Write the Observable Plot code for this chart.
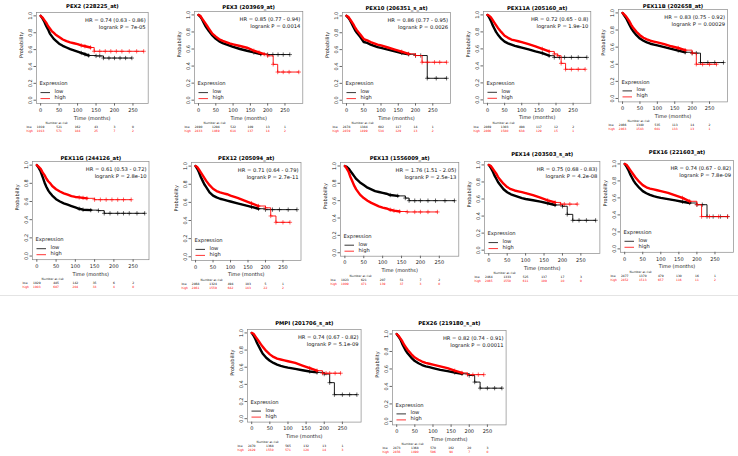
<!DOCTYPE html>
<html><head><meta charset="utf-8">
<script src="https://cdn.jsdelivr.net/npm/d3@7"></script>
<script src="https://cdn.jsdelivr.net/npm/@observablehq/plot@0.6"></script>
<style>
body{margin:0;background:#fff;}
#fig{position:relative;width:738px;height:456px;overflow:hidden;background:#fff;font-family:"DejaVu Sans",sans-serif;}
#fig svg{position:absolute;overflow:visible;}
.sep{position:absolute;left:0;width:738px;height:1px;background:#e4e4e4;}
</style>
</head><body><div id="fig"></div>
<script>
// ---------------- data ----------------
const titles = ["PEX2 (228225_at)","PEX3 (203969_at)","PEX10 (206351_s_at)","PEX11A (205160_at)","PEX11B (202658_at)",
  "PEX11G (244126_at)","PEX12 (205094_at)","PEX13 (1556009_at)","PEX14 (203503_s_at)","PEX16 (221603_at)",
  "PMPI (201706_s_at)","PEX26 (219180_s_at)"];
const hrText = ["HR = 0.74 (0.63 - 0.86)","HR = 0.85 (0.77 - 0.94)","HR = 0.86 (0.77 - 0.95)","HR = 0.72 (0.65 - 0.8)","HR = 0.83 (0.75 - 0.92)",
  "HR = 0.61 (0.53 - 0.72)","HR = 0.71 (0.64 - 0.79)","HR = 1.76 (1.51 - 2.05)","HR = 0.75 (0.68 - 0.83)","HR = 0.74 (0.67 - 0.82)",
  "HR = 0.74 (0.67 - 0.82)","HR = 0.82 (0.74 - 0.91)"];
const pText = ["logrank P = 7e-05","logrank P = 0.0014","logrank P = 0.0026","logrank P = 1.9e-10","logrank P = 0.00029",
  "logrank P = 2.8e-10","logrank P = 2.7e-11","logrank P = 2.5e-13","logrank P = 4.2e-08","logrank P = 7.8e-09",
  "logrank P = 5.1e-09","logrank P = 0.00011"];
const riskTimes = [0,50,100,150,200,250];
const timeTicks = [0,50,100,150,200,250];
const probTicks = [0,0.2,0.4,0.6,0.8,1];
const riskLowCounts = [
  [1019,521,162,43,3,0],[2490,1294,522,109,13,1],[2478,1384,602,117,14,1],[2469,1303,498,117,12,2],[2466,1340,535,113,14,2],
  [1029,485,142,35,6,2],[2468,1324,494,103,5,1],[1023,621,207,51,7,2],[2464,1333,525,137,17,3],[2477,1370,479,130,16,1],
  [2470,1368,565,132,13,1],[2473,1368,570,162,20,3]];
const riskHighCounts = [
  [1013,571,184,25,7,2],[2433,1469,614,137,14,2],[2459,1499,534,129,13,2],[2466,1580,638,129,15,1],[2463,1543,601,133,13,1],
  [1003,607,204,33,4,0],[2461,1559,642,143,22,2],[1009,471,139,37,3,0],[2465,1550,611,109,10,0],[2452,1513,657,116,11,2],
  [2429,1550,571,124,14,3],[2456,1490,596,94,7,0]];

// survival curves: [months, probability]
const pex2Low = [[0,1],[5,0.97],[10,0.93],[15,0.88],[20,0.84],[25,0.79],[30,0.76],[35,0.73],[40,0.71],[50,0.67],[60,0.645],[70,0.625],[80,0.605],[90,0.59],[100,0.575],[110,0.56],[120,0.545],[130,0.53],[150,0.525],[160,0.525],[170,0.5],[185,0.5],[200,0.5],[215,0.5],[230,0.5],[247,0.5]];
const pex2High = [[0,1],[5,0.98],[10,0.95],[15,0.92],[20,0.88],[25,0.85],[30,0.82],[35,0.8],[40,0.78],[50,0.75],[60,0.72],[70,0.7],[80,0.685],[90,0.675],[100,0.665],[110,0.65],[120,0.64],[135,0.625],[145,0.58],[160,0.58],[175,0.58],[190,0.58],[205,0.58],[220,0.58],[240,0.58],[260,0.58],[279,0.58]];
const pex3Low = [[0,1],[5,0.98],[10,0.95],[15,0.91],[20,0.87],[25,0.84],[30,0.81],[40,0.76],[50,0.72],[60,0.69],[70,0.67],[80,0.655],[90,0.64],[100,0.625],[120,0.6],[140,0.58],[160,0.56],[180,0.54],[200,0.535],[215,0.535],[230,0.535],[245,0.535],[264,0.535]];
const pex3High = [[0,1],[5,0.99],[10,0.96],[15,0.93],[20,0.9],[25,0.87],[30,0.84],[40,0.78],[50,0.745],[60,0.715],[70,0.695],[80,0.68],[90,0.665],[100,0.655],[120,0.635],[140,0.615],[150,0.6],[160,0.58],[175,0.56],[190,0.54],[200,0.52],[216,0.42],[229,0.33],[245,0.33],[262,0.33],[290,0.33]];
const pex10Low = [[0,1],[5,0.98],[10,0.95],[15,0.91],[20,0.87],[25,0.83],[30,0.8],[40,0.75],[50,0.69],[60,0.68],[70,0.66],[80,0.645],[90,0.63],[100,0.62],[120,0.6],[140,0.58],[160,0.56],[180,0.545],[200,0.53],[215,0.53],[234,0.26],[260,0.26],[290,0.26]];
const pex10High = [[0,1],[5,0.99],[10,0.96],[15,0.93],[20,0.9],[25,0.86],[30,0.83],[40,0.78],[50,0.725],[60,0.71],[70,0.69],[80,0.675],[90,0.66],[100,0.65],[120,0.625],[140,0.6],[160,0.575],[180,0.55],[200,0.53],[219,0.45],[235,0.45],[255,0.45],[270,0.45],[290,0.45]];
const pex11aLow = [[0,1],[5,0.97],[10,0.93],[15,0.88],[20,0.84],[25,0.8],[30,0.77],[40,0.72],[50,0.685],[60,0.665],[70,0.65],[80,0.635],[90,0.625],[100,0.615],[120,0.595],[140,0.57],[160,0.55],[180,0.52],[195,0.5],[210,0.5],[225,0.5],[245,0.5],[265,0.5],[290,0.5]];
const pex11aHigh = [[0,1],[5,0.99],[10,0.97],[15,0.94],[20,0.91],[25,0.88],[30,0.85],[40,0.8],[50,0.755],[60,0.73],[70,0.71],[80,0.7],[90,0.69],[100,0.68],[120,0.655],[140,0.63],[160,0.6],[180,0.57],[195,0.54],[205,0.52],[215,0.43],[228,0.36],[245,0.36],[265,0.36],[285,0.36]];
const pex11bLow = [[0,1],[5,0.97],[10,0.94],[15,0.9],[20,0.86],[25,0.82],[30,0.79],[40,0.74],[50,0.7],[60,0.675],[70,0.655],[80,0.64],[90,0.63],[100,0.62],[120,0.6],[140,0.58],[160,0.56],[180,0.54],[200,0.53],[212,0.53],[224,0.42],[245,0.42],[265,0.42],[290,0.42]];
const pex11bHigh = [[0,1],[5,0.98],[10,0.96],[15,0.93],[20,0.9],[25,0.86],[30,0.83],[40,0.78],[50,0.74],[60,0.71],[70,0.69],[80,0.675],[90,0.665],[100,0.655],[120,0.635],[140,0.61],[160,0.59],[180,0.565],[200,0.53],[212,0.4],[230,0.4],[250,0.4],[270,0.4]];
const pex11gLow = [[0,1],[5,0.97],[10,0.93],[15,0.87],[20,0.81],[25,0.76],[30,0.72],[35,0.69],[40,0.665],[50,0.625],[60,0.6],[70,0.58],[80,0.565],[90,0.55],[100,0.535],[110,0.52],[120,0.51],[140,0.505],[160,0.5],[175,0.47],[190,0.47],[210,0.47],[225,0.47],[240,0.47],[260,0.47],[280,0.47]];
const pex11gHigh = [[0,1],[5,0.98],[10,0.96],[15,0.92],[20,0.89],[25,0.85],[30,0.82],[35,0.8],[40,0.77],[50,0.735],[60,0.71],[70,0.69],[80,0.675],[90,0.66],[100,0.65],[110,0.645],[120,0.64],[130,0.635],[150,0.62],[165,0.62],[180,0.62],[195,0.62],[210,0.62],[225,0.62],[245,0.62]];
const pex12Low = [[0,1],[5,0.97],[10,0.93],[15,0.88],[20,0.84],[25,0.8],[30,0.77],[40,0.71],[50,0.675],[60,0.655],[70,0.64],[80,0.63],[90,0.62],[100,0.61],[120,0.59],[140,0.57],[160,0.55],[180,0.53],[200,0.52],[220,0.52],[240,0.52],[265,0.52],[290,0.52]];
const pex12High = [[0,1],[5,0.99],[10,0.96],[15,0.93],[20,0.9],[25,0.87],[30,0.84],[40,0.79],[50,0.75],[60,0.725],[70,0.71],[80,0.7],[90,0.69],[100,0.675],[120,0.65],[140,0.62],[160,0.59],[180,0.56],[200,0.54],[215,0.45],[230,0.38],[250,0.38],[270,0.38]];
const pex13Low = [[0,1],[5,0.99],[10,0.97],[15,0.94],[20,0.91],[25,0.88],[30,0.85],[40,0.81],[50,0.78],[60,0.75],[70,0.73],[80,0.71],[90,0.7],[100,0.69],[110,0.68],[120,0.665],[140,0.655],[160,0.63],[170,0.6],[185,0.6],[200,0.6],[220,0.6],[240,0.6],[265,0.6],[290,0.6]];
const pex13High = [[0,1],[5,0.97],[10,0.93],[15,0.87],[20,0.82],[25,0.77],[30,0.73],[40,0.67],[50,0.63],[60,0.6],[70,0.575],[80,0.555],[90,0.535],[100,0.52],[110,0.51],[120,0.495],[130,0.485],[145,0.475],[165,0.47],[185,0.47],[200,0.47],[220,0.47],[245,0.47]];
const pex14Low = [[0,1],[5,0.97],[10,0.93],[15,0.88],[20,0.84],[25,0.8],[30,0.77],[40,0.715],[50,0.68],[60,0.655],[70,0.64],[80,0.625],[90,0.61],[100,0.6],[120,0.585],[140,0.57],[160,0.55],[180,0.53],[200,0.515],[213,0.42],[228,0.35],[245,0.35],[265,0.35],[290,0.35]];
const pex14High = [[0,1],[5,0.99],[10,0.96],[15,0.93],[20,0.9],[25,0.86],[30,0.83],[40,0.78],[50,0.74],[60,0.715],[70,0.7],[80,0.69],[90,0.68],[100,0.67],[120,0.645],[140,0.615],[160,0.585],[180,0.56],[195,0.54],[205,0.54],[220,0.54],[240,0.54]];
const pex16Low = [[0,1],[5,0.97],[10,0.93],[15,0.88],[20,0.84],[25,0.8],[30,0.77],[40,0.72],[50,0.68],[60,0.655],[70,0.635],[80,0.62],[90,0.61],[100,0.6],[120,0.585],[140,0.57],[160,0.555],[180,0.54],[200,0.52],[215,0.52],[228,0.38],[245,0.38],[265,0.38],[285,0.38]];
const pex16High = [[0,1],[5,0.99],[10,0.96],[15,0.93],[20,0.9],[25,0.87],[30,0.84],[40,0.79],[50,0.75],[60,0.725],[70,0.71],[80,0.7],[90,0.69],[100,0.68],[120,0.66],[140,0.63],[160,0.6],[180,0.56],[200,0.52],[213,0.38],[235,0.38],[260,0.38],[285,0.38]];
const pmpiLow = [[0,1],[5,0.97],[10,0.93],[15,0.88],[20,0.84],[25,0.8],[30,0.76],[40,0.71],[50,0.675],[60,0.65],[70,0.63],[80,0.615],[90,0.605],[100,0.595],[120,0.58],[140,0.565],[160,0.55],[180,0.54],[200,0.52],[215,0.42],[228,0.28],[250,0.28],[270,0.28],[290,0.28]];
const pmpiHigh = [[0,1],[5,0.99],[10,0.96],[15,0.93],[20,0.9],[25,0.87],[30,0.84],[40,0.79],[50,0.75],[60,0.72],[70,0.7],[80,0.69],[90,0.68],[100,0.67],[120,0.65],[140,0.62],[160,0.59],[180,0.56],[195,0.53],[205,0.53],[215,0.53],[230,0.53],[245,0.53]];
const pex26Low = [[0,1],[5,0.97],[10,0.94],[15,0.89],[20,0.85],[25,0.81],[30,0.78],[40,0.73],[50,0.69],[60,0.665],[70,0.645],[80,0.63],[90,0.62],[100,0.61],[120,0.59],[140,0.575],[160,0.56],[180,0.545],[200,0.525],[215,0.45],[230,0.38],[250,0.38],[270,0.38],[290,0.38]];
const pex26High = [[0,1],[5,0.98],[10,0.95],[15,0.92],[20,0.88],[25,0.85],[30,0.82],[40,0.77],[50,0.73],[60,0.705],[70,0.685],[80,0.67],[90,0.66],[100,0.65],[120,0.63],[140,0.61],[160,0.58],[180,0.555],[195,0.535],[210,0.535],[225,0.535],[240,0.535]];

const lowCurves = [pex2Low,pex3Low,pex10Low,pex11aLow,pex11bLow,pex11gLow,pex12Low,pex13Low,pex14Low,pex16Low,pmpiLow,pex26Low];
const highCurves = [pex2High,pex3High,pex10High,pex11aHigh,pex11bHigh,pex11gHigh,pex12High,pex13High,pex14High,pex16High,pmpiHigh,pex26High];

// ---------------- layout (frame left, top, right, bottom, title y, time max, dense-until) ----------------
const layout = [
  [35.9,11.6,147.6,102.7,3.5,280,140],[194.1,10.6,302.4,102.7,4,290,190],[341.5,11.6,449.6,102.7,5,290,190],
  [482.6,10.6,589.9,102.4,5,290,190],[617.5,9.3,726.5,101.7,4,290,190],
  [31.7,161.4,148.2,259.6,155.7,280,140],[190.8,162.4,300.3,260.3,155.7,290,190],[339.7,161.5,458,255.2,155,290,150],
  [483.9,160.6,599.3,252.7,151,290,190],[619.9,159.9,733,251.7,149.5,290,190],
  [247.3,329.2,360.9,421.8,320.7,290,190],[392.3,329.8,505.9,424.2,320.7,290,190]];

const fig = document.getElementById("fig");
const LOW = "#000000", HIGH = "#ff0000";
const FONT = "DejaVu Sans";

// smooth where events are dense, true steps in the sparse tail
function shape(pts, cut) {
  const out = [];
  pts.forEach((p, i) => {
    if (i > 0 && p[0] > cut) out.push([p[0], pts[i - 1][1]]);
    out.push(p);
  });
  return out;
}

function curveMarks(pts, color, cut) {
  const path = shape(pts, cut);
  const dense = path.filter(d => d[0] <= cut);
  const sparse = pts.filter(d => d[0] >= cut - 30);
  return [
    Plot.line(path, {x: d => d[0], y: d => d[1], stroke: color, strokeWidth: 0.9}),
    Plot.line(dense, {x: d => d[0], y: d => d[1], stroke: color, strokeWidth: 2.4, strokeLinejoin: "round"}),
    Plot.dot(sparse, {x: d => d[0], y: d => d[1], symbol: "plus", r: 1.5, stroke: color, strokeWidth: 0.6})
  ];
}

layout.forEach((lay, i) => {
  const [L, T, R, B, titleY, tmax, cut] = lay;
  const mL = 36, mR = 6, mT = 14, mB = 36;
  const width = (R - L) + mL + mR, height = (B - T) + mT + mB;
  const legendLines = (index, scales, values, dims) => {
    const g = d3.create("svg:g");
    const x0 = dims.marginLeft + 4.5, x1 = dims.marginLeft + 14;
    const yb = dims.height - dims.marginBottom;
    g.append("line").attr("x1", x0).attr("x2", x1).attr("y1", yb - 10.5).attr("y2", yb - 10.5).attr("stroke", LOW).attr("stroke-width", 0.8);
    g.append("line").attr("x1", x0).attr("x2", x1).attr("y1", yb - 4.5).attr("y2", yb - 4.5).attr("stroke", HIGH).attr("stroke-width", 0.8);
    return g.node();
  };
  const svg = Plot.plot({
    width, height, marginLeft: mL, marginRight: mR, marginTop: mT, marginBottom: mB,
    style: {fontFamily: FONT, fontSize: "5px", background: "transparent", overflow: "visible"},
    x: {domain: [-0.04 * tmax, 1.04 * tmax]},
    y: {domain: [-0.04, 1.04]},
    marks: [
      Plot.frame({stroke: "#8a8a8a", strokeWidth: 0.7}),
      Plot.axisX({ticks: timeTicks, tickSize: 2.5, tickPadding: 2.2, label: null, stroke: "#666", fill: "#222", fontSize: 5}),
      Plot.axisY({ticks: probTicks, tickFormat: d3.format(".1f"), tickRotate: -90, textAnchor: "middle", lineAnchor: "bottom",
                  tickSize: 2.5, tickPadding: 1.8, label: null, stroke: "#666", fill: "#222", fontSize: 5}),
      ...curveMarks(lowCurves[i], LOW, cut),
      ...curveMarks(highCurves[i], HIGH, cut),
      Plot.text([titles[i]], {text: d => d, frameAnchor: "top", dy: titleY - T, fontWeight: "bold", fontSize: 5.3, fill: "#000"}),
      Plot.text([hrText[i]], {text: d => d, frameAnchor: "top-right", dx: -2.5, dy: 6, textAnchor: "end", fontSize: 5.2, fill: "#111"}),
      Plot.text([pText[i]], {text: d => d, frameAnchor: "top-right", dx: -2.5, dy: 12.5, textAnchor: "end", fontSize: 5.2, fill: "#111"}),
      Plot.text(["Expression"], {text: d => d, frameAnchor: "bottom-left", dx: 3, dy: -18.3, textAnchor: "start", fontSize: 5.2, fill: "#222"}),
      Plot.text(["low"], {text: d => d, frameAnchor: "bottom-left", dx: 18, dy: -10.5, textAnchor: "start", fontSize: 5.2, fill: "#222"}),
      Plot.text(["high"], {text: d => d, frameAnchor: "bottom-left", dx: 18, dy: -4.5, textAnchor: "start", fontSize: 5.2, fill: "#222"}),
      legendLines,
      Plot.text(["Time (months)"], {text: d => d, frameAnchor: "bottom", dy: 16, fontSize: 5, fill: "#222"}),
      Plot.text(["Probability"], {text: d => d, frameAnchor: "left", dx: -15.5, rotate: -90, fontSize: 5, fill: "#222"}),
      Plot.text(["Number at risk"], {text: d => d, frameAnchor: "bottom-left", dx: 9, dy: 20.5, fontSize: 3, fill: "#222"}),
      Plot.text(["low"], {text: d => d, frameAnchor: "bottom-left", dx: -10, dy: 24.5, fontSize: 3, fill: LOW}),
      Plot.text(["high"], {text: d => d, frameAnchor: "bottom-left", dx: -10, dy: 28.5, fontSize: 3, fill: HIGH}),
      Plot.text(riskTimes, {x: d => d, text: (d, j) => String(riskLowCounts[i][j]), frameAnchor: "bottom", dy: 24.5, fontSize: 3, fill: LOW}),
      Plot.text(riskTimes, {x: d => d, text: (d, j) => String(riskHighCounts[i][j]), frameAnchor: "bottom", dy: 28.5, fontSize: 3, fill: HIGH})
    ]
  });
  svg.style.left = (L - mL) + "px";
  svg.style.top = (T - mT) + "px";
  fig.appendChild(svg);
});
const sep = document.createElement("div");
sep.className = "sep"; sep.style.top = "295px";
fig.appendChild(sep);
</script>
</body></html>
